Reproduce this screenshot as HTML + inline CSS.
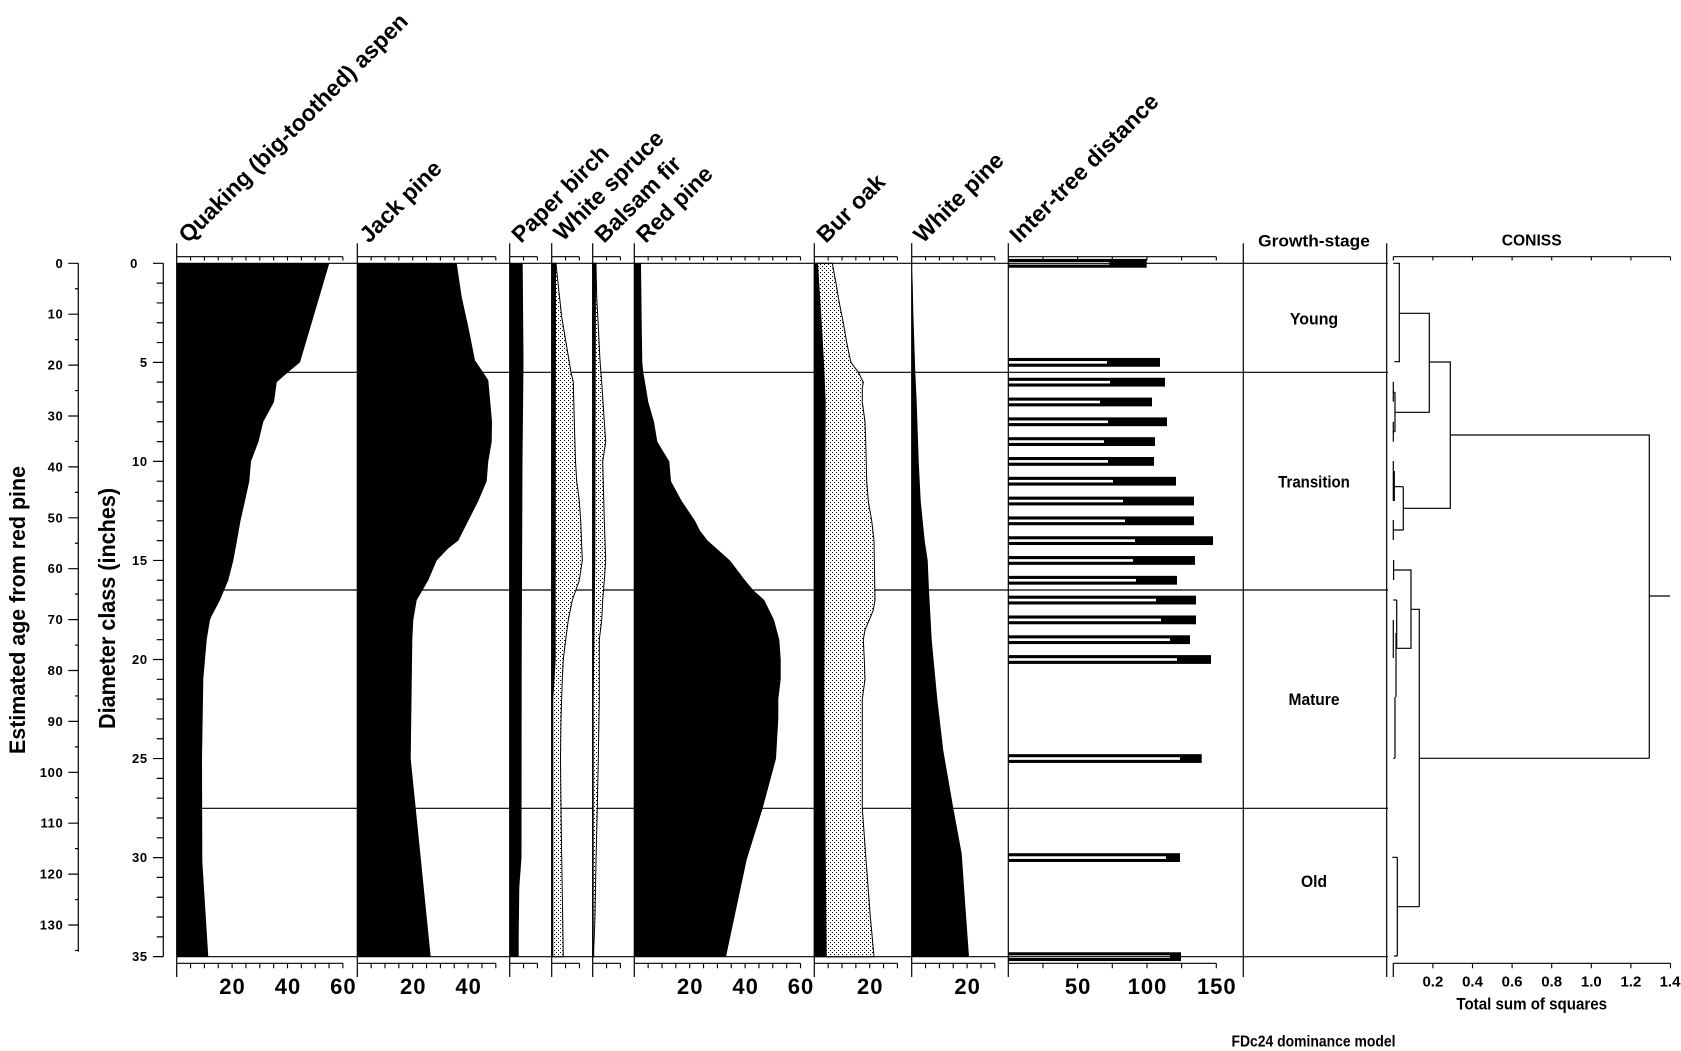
<!DOCTYPE html>
<html><head><meta charset="utf-8"><style>
html,body{margin:0;padding:0;background:#fff;}
svg{display:block;}
text{font-family:"Liberation Sans",Arial,sans-serif;font-weight:bold;fill:#000;}
</style></head><body>
<svg xmlns="http://www.w3.org/2000/svg" width="1681" height="1051" viewBox="0 0 1681 1051">
<defs>
<pattern id="st" width="4" height="4" patternUnits="userSpaceOnUse">
<rect width="4" height="4" fill="#fff"/>
<rect x="0" y="0" width="1" height="1" fill="#000"/>
<rect x="2" y="2" width="1" height="1" fill="#000"/>
</pattern>
</defs>
<rect width="1681" height="1051" fill="#fff"/>

<!-- zone lines -->
<path d="M176.7 372.3H1388M176.7 590H1388M176.7 808.3H1388" stroke="#000" stroke-width="1.2" fill="none"/>

<!-- Aspen -->
<polygon fill="#000" points="176.7,263.3 329.3,263.3 300,362.4 288,372.3 276.7,382.2 274,402 263.3,421.8 258.5,441.6 251,461.4 249.3,481.2 245,501 240.5,520.8 237,540.6 233.3,560.5 228.3,580.3 220,600.1 211.7,615.9 210,619.9 206.7,639.7 205,659.5 203.3,679.3 202,758.6 202.3,861.6 208.3,956.7 176.7,956.7"/>
<!-- Jack pine -->
<polygon fill="#000" points="357.3,263.3 456.7,263.3 461.7,297 468.3,326.7 475,360.4 481.7,370.3 488.3,380.2 492,421.8 491.7,441.6 488.3,461.4 486.7,481.2 478.3,501 468.3,520.8 458.3,540.6 448,548.6 436.7,560.5 428.3,580.3 416.7,600.1 413.3,619.9 412.3,639.7 410.7,758.6 430.7,956.7 357.3,956.7"/>
<!-- Paper birch -->
<polygon fill="#000" points="509.7,263.3 522.7,263.3 523.5,362.4 522.5,461.4 521.7,659.5 521.5,857.6 519.3,887.3 518.7,936.8 518.7,956.7 509.7,956.7"/>
<!-- White spruce -->
<polygon fill="url(#st)" stroke="#000" stroke-width="1" points="551.7,263.3 556,263.3 558,283.1 561.7,316.8 566,342.5 571,372.3 573.3,382.2 574.3,421.8 575.5,461.4 576.7,481.2 579.3,501 580.7,520.8 582.3,560.5 579.3,580.3 572.3,600.1 568.3,619.9 565.7,639.7 563.3,659.5 562.3,679.3 561,718.9 560.5,758.6 561,808.1 561.7,857.6 563.3,956.7 551.7,956.7"/>
<polygon fill="#000" points="551.7,263.3 556,263.3 555.7,659.5 553.3,699.1 553.3,956.7 551.7,956.7"/>
<!-- Balsam fir -->
<polygon fill="url(#st)" stroke="#000" stroke-width="1" points="592.7,263.3 596,263.3 596.7,297 598.3,326.7 600,360.4 601.7,382.2 604.3,421.8 605.7,441.6 602.7,461.4 604.3,520.8 605.7,560.5 604.3,580.3 602.7,600.1 601.7,619.9 599.3,639.7 599.3,699.1 598.3,758.6 597.3,808.1 596,861.6 595,917 593.7,950.7 593.7,956.7 592.7,956.7"/>
<polygon fill="#000" points="592.7,263.3 596,263.3 595.3,560.5 593.7,699.1 593.7,956.7 592.7,956.7"/>
<!-- Red pine -->
<polygon fill="#000" points="634.3,263.3 641,263.3 641.7,322.7 642.3,362.4 643.3,372.3 645,382.2 648.3,402 654,421.8 657.3,441.6 668,459.4 669.3,461.4 671,481.2 681.7,501 695,520.8 700,530.7 707.7,540.6 730,560.5 745,580.3 753.3,590.2 764.3,600.1 774,619.9 779.3,639.7 780.7,659.5 780.7,679.3 778.3,699.1 778.3,718.9 776,758.6 762.7,808.1 746.7,859.6 726,956.7 634.3,956.7"/>
<!-- Bur oak -->
<polygon fill="url(#st)" stroke="#000" stroke-width="1" points="814.3,263.3 832.3,263.3 836,283.1 839.3,302.9 843.3,322.7 846.7,342.5 850,358.4 851,362.4 858.3,372.3 863.3,382.2 862.3,388.1 862.3,402 865,421.8 865.7,441.6 866.7,481.2 868.3,501 871.7,520.8 874,540.6 875,600.1 873.3,610 869.3,619.9 865,629.8 863.3,639.7 864.3,659.5 865,679.3 862.3,699.1 862.3,808.1 866,859.6 870,913.1 874,956.7 814.3,956.7"/>
<polygon fill="#000" points="814.3,263.3 818,263.3 821.7,322.7 824,362.4 825.7,402 824.3,699.1 826.7,956.7 814.3,956.7"/>
<!-- White pine -->
<polygon fill="#000" points="911.7,263.3 912.7,283.1 913.3,312.8 914.3,342.5 915.3,372.3 916.7,402 918.7,461.4 920.7,501 924.7,540.6 927.7,560.5 929,590.2 931.7,639.7 937.3,699.1 943.3,750.6 953.3,808.1 961.7,853.6 965,901.2 969,956.7 911.7,956.7"/>

<!-- Inter-tree bars -->
<g fill="#000">
<rect x="1008.3" y="258.9" width="138.4" height="8.8"/>
<rect x="1008.3" y="357.95" width="151.7" height="8.8"/>
<rect x="1008.3" y="377.76" width="156.7" height="8.8"/>
<rect x="1008.3" y="397.57" width="143.7" height="8.8"/>
<rect x="1008.3" y="417.38" width="158.7" height="8.8"/>
<rect x="1008.3" y="437.19" width="146.7" height="8.8"/>
<rect x="1008.3" y="457" width="145.7" height="8.8"/>
<rect x="1008.3" y="476.81" width="167.7" height="8.8"/>
<rect x="1008.3" y="496.62" width="185.7" height="8.8"/>
<rect x="1008.3" y="516.43" width="185.7" height="8.8"/>
<rect x="1008.3" y="536.24" width="204.7" height="8.8"/>
<rect x="1008.3" y="556.05" width="186.7" height="8.8"/>
<rect x="1008.3" y="575.86" width="168.7" height="8.8"/>
<rect x="1008.3" y="595.67" width="187.7" height="8.8"/>
<rect x="1008.3" y="615.48" width="187.7" height="8.8"/>
<rect x="1008.3" y="635.29" width="181.7" height="8.8"/>
<rect x="1008.3" y="655.1" width="202.7" height="8.8"/>
<rect x="1008.3" y="754.15" width="193.4" height="8.8"/>
<rect x="1008.3" y="853.2" width="171.7" height="8.8"/>
<rect x="1008.3" y="952.25" width="172.7" height="8.8"/>
</g>
<g fill="#fff">
<rect x="1009" y="262" width="100.3" height="2.6"/>
<rect x="1009" y="361.05" width="98" height="2.6"/>
<rect x="1009" y="380.86" width="101" height="2.6"/>
<rect x="1009" y="400.67" width="91" height="2.6"/>
<rect x="1009" y="420.48" width="99" height="2.6"/>
<rect x="1009" y="440.29" width="95" height="2.6"/>
<rect x="1009" y="460.1" width="99" height="2.6"/>
<rect x="1009" y="479.91" width="104" height="2.6"/>
<rect x="1009" y="499.72" width="114" height="2.6"/>
<rect x="1009" y="519.53" width="116" height="2.6"/>
<rect x="1009" y="539.34" width="126" height="2.6"/>
<rect x="1009" y="559.15" width="124" height="2.6"/>
<rect x="1009" y="578.96" width="127" height="2.6"/>
<rect x="1009" y="598.77" width="147" height="2.6"/>
<rect x="1009" y="618.58" width="152" height="2.6"/>
<rect x="1009" y="638.39" width="161" height="2.6"/>
<rect x="1009" y="658.2" width="168" height="2.6"/>
<rect x="1009" y="757.25" width="171" height="2.6"/>
<rect x="1009" y="856.3" width="157" height="2.6"/>
<rect x="1009" y="955.35" width="161" height="2.6"/>
</g>

<!-- frame lines -->
<g stroke="#000" stroke-width="1.2" fill="none">
<path d="M176.7 263.3H1388M176.7 956.7H1388"/>
<path d="M176.7 243.3V977M357.3 243.3V977M509.7 243.3V977M551.7 243.3V977M592.7 243.3V977M634.3 243.3V977M814.3 243.3V977M911.7 243.3V977M1008.3 243.3V977M1243.3 243.3V977M1386.7 243.3V977"/>
<path d="M176.7 256.7H342.9M357.3 256.7H495.8M509.7 256.7H537.4M551.7 256.7H579.4M592.7 256.7H620.4M634.3 256.7H800.5M814.3 256.7H897.4M911.7 256.7H994.8M1008.3 256.7H1216.3M1393.3 256.7H1670.5"/>
<path d="M176.7 963.3H342.9M357.3 963.3H495.8M509.7 963.3H537.4M551.7 963.3H579.4M592.7 963.3H620.4M634.3 963.3H800.5M814.3 963.3H897.4M911.7 963.3H994.8M1008.3 963.3H1216.3M1393.3 963.3H1670.5M1393.3 963.3V977"/>
</g>
<g stroke="#000" stroke-width="1.1" fill="none">
<path d="M190.55 256.7v3.8M204.4 256.7v3.8M218.25 256.7v3.8M232.1 256.7v3.8M245.95 256.7v3.8M259.8 256.7v3.8M273.65 256.7v3.8M287.5 256.7v3.8M301.35 256.7v3.8M315.2 256.7v3.8M329.05 256.7v3.8M342.9 256.7v3.8
M371.15 256.7v3.8M385 256.7v3.8M398.85 256.7v3.8M412.7 256.7v3.8M426.55 256.7v3.8M440.4 256.7v3.8M454.25 256.7v3.8M468.1 256.7v3.8M481.95 256.7v3.8M495.8 256.7v3.8
M523.55 256.7v3.8M537.4 256.7v3.8M565.55 256.7v3.8M579.4 256.7v3.8M606.55 256.7v3.8M620.4 256.7v3.8
M648.15 256.7v3.8M662 256.7v3.8M675.85 256.7v3.8M689.7 256.7v3.8M703.55 256.7v3.8M717.4 256.7v3.8M731.25 256.7v3.8M745.1 256.7v3.8M758.95 256.7v3.8M772.8 256.7v3.8M786.65 256.7v3.8M800.5 256.7v3.8
M828.15 256.7v3.8M842 256.7v3.8M855.85 256.7v3.8M869.7 256.7v3.8M883.55 256.7v3.8M897.4 256.7v3.8
M925.55 256.7v3.8M939.4 256.7v3.8M953.25 256.7v3.8M967.1 256.7v3.8M980.95 256.7v3.8M994.8 256.7v3.8
M1042.97 256.7v3.8M1077.63 256.7v3.8M1112.3 256.7v3.8M1146.97 256.7v3.8M1181.63 256.7v3.8M1216.3 256.7v3.8
M1393.3 256.7v3.8M1432.9 256.7v3.8M1472.5 256.7v3.8M1512.1 256.7v3.8M1551.7 256.7v3.8M1591.3 256.7v3.8M1630.9 256.7v3.8M1670.5 256.7v3.8"/>
<path d="M190.55 963.3v5M204.4 963.3v5M218.25 963.3v5M232.1 963.3v5M245.95 963.3v5M259.8 963.3v5M273.65 963.3v5M287.5 963.3v5M301.35 963.3v5M315.2 963.3v5M329.05 963.3v5M342.9 963.3v5
M371.15 963.3v5M385 963.3v5M398.85 963.3v5M412.7 963.3v5M426.55 963.3v5M440.4 963.3v5M454.25 963.3v5M468.1 963.3v5M481.95 963.3v5M495.8 963.3v5
M523.55 963.3v5M537.4 963.3v5M565.55 963.3v5M579.4 963.3v5M606.55 963.3v5M620.4 963.3v5
M648.15 963.3v5M662 963.3v5M675.85 963.3v5M689.7 963.3v5M703.55 963.3v5M717.4 963.3v5M731.25 963.3v5M745.1 963.3v5M758.95 963.3v5M772.8 963.3v5M786.65 963.3v5M800.5 963.3v5
M828.15 963.3v5M842 963.3v5M855.85 963.3v5M869.7 963.3v5M883.55 963.3v5M897.4 963.3v5
M925.55 963.3v5M939.4 963.3v5M953.25 963.3v5M967.1 963.3v5M980.95 963.3v5M994.8 963.3v5
M1042.97 963.3v5M1077.63 963.3v5M1112.3 963.3v5M1146.97 963.3v5M1181.63 963.3v5M1216.3 963.3v5
M1432.9 963.3v5M1472.5 963.3v5M1512.1 963.3v5M1551.7 963.3v5M1591.3 963.3v5M1630.9 963.3v5M1670.5 963.3v5"/>
</g>

<!-- Age axis -->
<g stroke="#000" stroke-width="1.2" fill="none">
<path d="M78.3 263.3V951.7"/>
<path d="M68.3 263.3H78.3M68.3 314.2H78.3M68.3 365.1H78.3M68.3 416H78.3M68.3 466.9H78.3M68.3 517.8H78.3M68.3 568.7H78.3M68.3 619.6H78.3M68.3 670.5H78.3M68.3 721.4H78.3M68.3 772.3H78.3M68.3 823.2H78.3M68.3 874.1H78.3M68.3 925H78.3
M75 288.75H78.3M75 339.65H78.3M75 390.55H78.3M75 441.45H78.3M75 492.35H78.3M75 543.25H78.3M75 594.15H78.3M75 645.05H78.3M75 695.95H78.3M75 746.85H78.3M75 797.75H78.3M75 848.65H78.3M75 899.55H78.3M75 950.45H78.3"/>
<path d="M163.3 263.3V956.7"/>
<path d="M153 263.3H163.3M153 362.35H163.3M153 461.4H163.3M153 560.45H163.3M153 659.5H163.3M153 758.55H163.3M153 857.6H163.3M153 956.65H163.3
M156.7 283.11H163.3M156.7 302.92H163.3M156.7 322.73H163.3M156.7 342.54H163.3M156.7 382.16H163.3M156.7 401.97H163.3M156.7 421.78H163.3M156.7 441.59H163.3M156.7 481.21H163.3M156.7 501.02H163.3M156.7 520.83H163.3M156.7 540.64H163.3M156.7 580.26H163.3M156.7 600.07H163.3M156.7 619.88H163.3M156.7 639.69H163.3M156.7 679.31H163.3M156.7 699.12H163.3M156.7 718.93H163.3M156.7 738.74H163.3M156.7 778.36H163.3M156.7 798.17H163.3M156.7 817.98H163.3M156.7 837.79H163.3M156.7 877.41H163.3M156.7 897.22H163.3M156.7 917.03H163.3M156.7 936.84H163.3"/>
</g>

<!-- Age labels -->
<g font-size="13" text-anchor="end" letter-spacing="0.6">
<text x="63.3" y="267.8">0</text><text x="63.3" y="318.7">10</text><text x="63.3" y="369.6">20</text><text x="63.3" y="420.5">30</text><text x="63.3" y="471.4">40</text><text x="63.3" y="522.3">50</text><text x="63.3" y="573.2">60</text><text x="63.3" y="624.1">70</text><text x="63.3" y="675">80</text><text x="63.3" y="725.9">90</text><text x="63.3" y="776.8">100</text><text x="63.3" y="827.7">110</text><text x="63.3" y="878.6">120</text><text x="63.3" y="929.5">130</text>
<text x="138" y="267.8">0</text><text x="147.7" y="366.85">5</text><text x="147.7" y="465.9">10</text><text x="147.7" y="564.95">15</text><text x="147.7" y="664">20</text><text x="147.7" y="763.05">25</text><text x="147.7" y="862.1">30</text><text x="147.7" y="961.15">35</text>
</g>

<!-- Left axis titles -->
<text font-size="22" x="25" y="754" transform="rotate(-90 25 754)" textLength="288" lengthAdjust="spacingAndGlyphs">Estimated age from red pine</text>
<text font-size="23" x="115" y="729" transform="rotate(-90 115 729)" textLength="241" lengthAdjust="spacingAndGlyphs">Diameter class (inches)</text>

<!-- Panel titles -->
<g font-size="23">
<text x="188" y="244" transform="rotate(-45 188 244)">Quaking (big-toothed) aspen</text>
<text x="369" y="244" transform="rotate(-45 369 244)">Jack pine</text>
<text x="521" y="244" transform="rotate(-45 521 244)">Paper birch</text>
<text x="563" y="242" transform="rotate(-45 563 242)">White spruce</text>
<text x="604" y="244" transform="rotate(-45 604 244)">Balsam fir</text>
<text x="645.5" y="244" transform="rotate(-45 645.5 244)">Red pine</text>
<text x="826" y="244" transform="rotate(-45 826 244)">Bur oak</text>
<text x="923" y="244" transform="rotate(-45 923 244)">White pine</text>
<text x="1019" y="244" transform="rotate(-45 1019 244)">Inter-tree distance</text>
</g>

<!-- Bottom axis labels -->
<g font-size="22" text-anchor="middle" letter-spacing="1">
<text x="232.5" y="994">20</text><text x="288" y="994">40</text><text x="343.4" y="994">60</text>
<text x="413.2" y="994">20</text><text x="468.6" y="994">40</text>
<text x="690.2" y="994">20</text><text x="745.6" y="994">40</text><text x="801" y="994">60</text>
<text x="870.2" y="994">20</text>
<text x="967.6" y="994">20</text>
<text x="1078.1" y="994">50</text><text x="1147.5" y="994">100</text><text x="1216.8" y="994">150</text>
</g>

<!-- Growth stage labels -->
<g font-size="17" text-anchor="middle">
<text x="1314" y="246.3" textLength="111.7" lengthAdjust="spacingAndGlyphs">Growth-stage</text>
<text x="1314" y="324.3" textLength="48.3" lengthAdjust="spacingAndGlyphs">Young</text>
<text x="1314" y="487.7" textLength="71.7" lengthAdjust="spacingAndGlyphs">Transition</text>
<text x="1314" y="705" textLength="51" lengthAdjust="spacingAndGlyphs">Mature</text>
<text x="1314" y="887" textLength="26" lengthAdjust="spacingAndGlyphs">Old</text>
</g>

<!-- CONISS -->
<text font-size="16" x="1531.7" y="245.7" text-anchor="middle" textLength="60" lengthAdjust="spacingAndGlyphs">CONISS</text>
<g stroke="#000" stroke-width="1.2" fill="none">
<path d="M1393.3 263.3H1399.3V361.7H1394.3M1399.3 313.3H1429.3V412.3H1395M1395 392.3V431.7M1393.3 392.3H1395M1393.3 431.7H1395M1393.3 381.7V401.7M1393.3 421.7V441.7
M1429.3 362H1450.3V508.3H1403.3M1403.3 486.7V530M1394 486.7H1403.3M1393.3 530H1403.3M1393.3 461V501M1394.3 471V501M1393.3 520V540
M1450.3 435H1649.3V758.3M1649.3 596H1670
M1394 570H1411V648.3H1396.7M1393.6 560V580M1396.7 600V648.3M1393.3 600H1396.7M1411 609.3H1419.3V906.7M1419.3 758.3H1649.3
M1396 633V697M1393.3 620V658M1395 697V758.3M1393.3 758.3H1395
M1397.3 906.7H1419.3M1397.3 857.3V956M1392.3 857.3H1397.3M1394 956H1397.3"/>
</g>
<g font-size="15" text-anchor="middle">
<text x="1432.9" y="986.3">0.2</text><text x="1472.5" y="986.3">0.4</text><text x="1512.1" y="986.3">0.6</text><text x="1551.7" y="986.3">0.8</text><text x="1591.3" y="986.3">1.0</text><text x="1630.9" y="986.3">1.2</text><text x="1670" y="986.3">1.4</text>
</g>
<text font-size="17" x="1531.7" y="1009.3" text-anchor="middle" textLength="150.7" lengthAdjust="spacingAndGlyphs">Total sum of squares</text>
<text font-size="16" x="1231.5" y="1046.5" textLength="164" lengthAdjust="spacingAndGlyphs">FDc24 dominance model</text>
</svg>
</body></html>
